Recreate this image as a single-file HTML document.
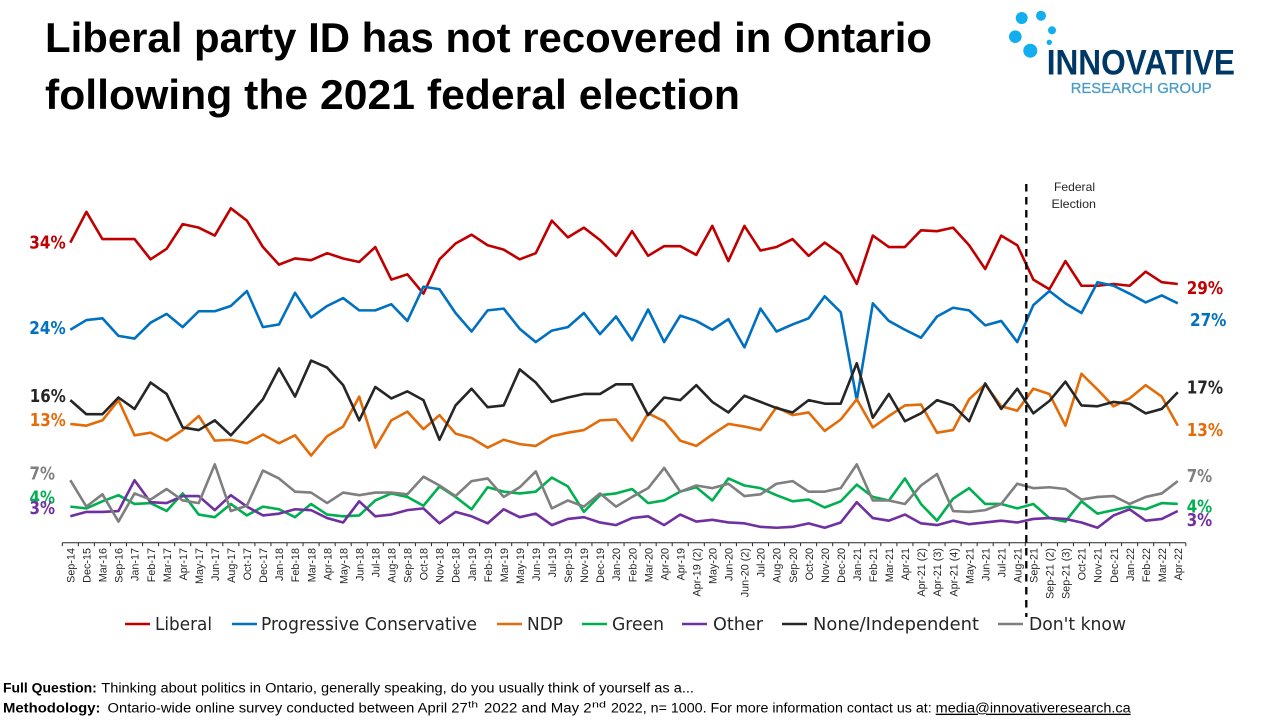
<!DOCTYPE html>
<html lang="en">
<head>
<meta charset="utf-8">
<title>Liberal party ID in Ontario</title>
<style>
html,body{margin:0;padding:0;background:#fff;width:1280px;height:720px;overflow:hidden}
svg{display:block}
.title{font-family:"Liberation Sans",sans-serif;font-weight:700;font-size:41.5px;fill:#000}
.lab{font-family:"DejaVu Sans","Liberation Sans",sans-serif;font-weight:700;font-size:17.5px}
.leg{font-family:"DejaVu Sans","Liberation Sans",sans-serif;font-size:18px;fill:#262626}
.foot{font-family:"Liberation Sans",sans-serif;font-size:13.5px;fill:#000}
.sup{font-family:"Liberation Sans",sans-serif;font-size:9px;fill:#000}
.note{font-family:"Liberation Sans",sans-serif;font-size:12px;fill:#262626}
.tick{font-family:"Liberation Sans",sans-serif;font-size:10.8px;fill:#262626}
</style>
</head>
<body>
<svg id="chart" xmlns="http://www.w3.org/2000/svg" width="1280" height="720" viewBox="0 0 1280 720">
  <rect x="0" y="0" width="1280" height="720" fill="#fff"/>

  <g>
    <text class="title" x="45" y="52" textLength="887" lengthAdjust="spacingAndGlyphs">Liberal party ID has not recovered in Ontario</text>
    <text class="title" x="45" y="109" textLength="695" lengthAdjust="spacingAndGlyphs">following the 2021 federal election</text>
  </g>

  <g>
    <circle cx="1021.7" cy="18" r="6" fill="#12AEEF"/>
    <circle cx="1041" cy="15.7" r="5" fill="#12AEEF"/>
    <circle cx="1052" cy="30.3" r="4" fill="#12AEEF"/>
    <circle cx="1049.3" cy="42.3" r="2.7" fill="#12AEEF"/>
    <circle cx="1015.3" cy="36.7" r="6.3" fill="#12AEEF"/>
    <circle cx="1030.3" cy="50.7" r="7" fill="#12AEEF"/>
    <text x="1046.7" y="74.7" font-family="Liberation Sans, sans-serif" font-weight="700" font-size="35" fill="#003865" textLength="188.3" lengthAdjust="spacingAndGlyphs">INNOVATIVE</text>
    <text x="1070.7" y="93" font-family="Liberation Sans, sans-serif" font-size="15" fill="#4A9CC7" stroke="#4A9CC7" stroke-width="0.3" textLength="141" lengthAdjust="spacingAndGlyphs">RESEARCH GROUP</text>
  </g>

  <g id="axis"></g>
  <g id="lines"></g>

  <line x1="1026.3" y1="184" x2="1026.3" y2="617" stroke="#000" stroke-width="2.3" stroke-dasharray="7.5 5.5"/>
  <text class="note" x="1054" y="191" textLength="41" lengthAdjust="spacingAndGlyphs">Federal</text>
  <text class="note" x="1051.5" y="208" textLength="44.5" lengthAdjust="spacingAndGlyphs">Election</text>

  <g>
    <text class="lab" fill="#C00000" x="29.3" y="248.7" textLength="36.4" lengthAdjust="spacingAndGlyphs">34%</text>
    <text class="lab" fill="#0070C0" x="29.3" y="334" textLength="36.4" lengthAdjust="spacingAndGlyphs">24%</text>
    <text class="lab" fill="#262626" x="29.8" y="402" textLength="36" lengthAdjust="spacingAndGlyphs">16%</text>
    <text class="lab" fill="#E36C0A" x="29.8" y="426" textLength="36" lengthAdjust="spacingAndGlyphs">13%</text>
    <text class="lab" fill="#7F7F7F" x="29.5" y="479.3" textLength="25.5" lengthAdjust="spacingAndGlyphs">7%</text>
    <text class="lab" fill="#00B050" x="29.5" y="503.3" textLength="25.5" lengthAdjust="spacingAndGlyphs">4%</text>
    <text class="lab" fill="#7030A0" x="29.5" y="514" textLength="25.5" lengthAdjust="spacingAndGlyphs">3%</text>
  </g>
  <g>
    <text class="lab" fill="#C00000" x="1186.7" y="294" textLength="36.4" lengthAdjust="spacingAndGlyphs">29%</text>
    <text class="lab" fill="#0070C0" x="1190" y="326" textLength="36.4" lengthAdjust="spacingAndGlyphs">27%</text>
    <text class="lab" fill="#262626" x="1186.7" y="393.3" textLength="36.4" lengthAdjust="spacingAndGlyphs">17%</text>
    <text class="lab" fill="#E36C0A" x="1186.7" y="436" textLength="36.4" lengthAdjust="spacingAndGlyphs">13%</text>
    <text class="lab" fill="#7F7F7F" x="1186.7" y="482" textLength="25.5" lengthAdjust="spacingAndGlyphs">7%</text>
    <text class="lab" fill="#00B050" x="1186.7" y="512.7" textLength="25.5" lengthAdjust="spacingAndGlyphs">4%</text>
    <text class="lab" fill="#7030A0" x="1186.7" y="526" textLength="25.5" lengthAdjust="spacingAndGlyphs">3%</text>
  </g>

  <g>
    <g>
      <line x1="125" y1="624" x2="150" y2="624" stroke="#C00000" stroke-width="2.6"/>
      <text class="leg" x="155" y="630" textLength="57" lengthAdjust="spacingAndGlyphs">Liberal</text>
    </g>
    <g>
      <line x1="232" y1="624" x2="257" y2="624" stroke="#0070C0" stroke-width="2.6"/>
      <text class="leg" x="261" y="630" textLength="216" lengthAdjust="spacingAndGlyphs">Progressive Conservative</text>
    </g>
    <g>
      <line x1="497" y1="624" x2="522" y2="624" stroke="#E36C0A" stroke-width="2.6"/>
      <text class="leg" x="527" y="630" textLength="36" lengthAdjust="spacingAndGlyphs">NDP</text>
    </g>
    <g>
      <line x1="582" y1="624" x2="607" y2="624" stroke="#00B050" stroke-width="2.6"/>
      <text class="leg" x="612" y="630" textLength="52" lengthAdjust="spacingAndGlyphs">Green</text>
    </g>
    <g>
      <line x1="682" y1="624" x2="707" y2="624" stroke="#7030A0" stroke-width="2.6"/>
      <text class="leg" x="713" y="630" textLength="50" lengthAdjust="spacingAndGlyphs">Other</text>
    </g>
    <g>
      <line x1="782" y1="624" x2="807" y2="624" stroke="#262626" stroke-width="2.6"/>
      <text class="leg" x="813" y="630" textLength="166" lengthAdjust="spacingAndGlyphs">None/Independent</text>
    </g>
    <g>
      <line x1="998" y1="624" x2="1023" y2="624" stroke="#7F7F7F" stroke-width="2.6"/>
      <text class="leg" x="1029" y="630" textLength="97" lengthAdjust="spacingAndGlyphs">Don't know</text>
    </g>
  </g>

  <g>
    <text class="foot" x="3" y="692.7" font-weight="700" textLength="93.8" lengthAdjust="spacingAndGlyphs">Full Question:</text>
    <text class="foot" x="101.3" y="692.7" textLength="592.7" lengthAdjust="spacingAndGlyphs">Thinking about politics in Ontario, generally speaking, do you usually think of yourself as a...</text>
    <text class="foot" x="3" y="712.7" font-weight="700" textLength="97.5" lengthAdjust="spacingAndGlyphs">Methodology:</text>
    <text class="foot" x="107.5" y="712.7" textLength="360.2" lengthAdjust="spacingAndGlyphs">Ontario-wide online survey conducted between April 27</text>
    <text class="sup" x="468" y="707.5" textLength="10" lengthAdjust="spacingAndGlyphs">th</text>
    <text class="foot" x="484" y="712.7" textLength="107.6" lengthAdjust="spacingAndGlyphs">2022 and May 2</text>
    <text class="sup" x="592" y="707.5" textLength="14" lengthAdjust="spacingAndGlyphs">nd</text>
    <text class="foot" x="611" y="712.7" textLength="320.7" lengthAdjust="spacingAndGlyphs">2022, n= 1000. For more information contact us at:</text>
    <text class="foot" x="935.7" y="712.7" text-decoration="underline" textLength="195" lengthAdjust="spacingAndGlyphs">media@innovativeresearch.ca</text>
  </g>
</svg>

<script>
const categories = ["Sep-14","Dec-15","Mar-16","Sep-16","Jan-17","Feb-17","Mar-17","Apr-17","May-17","Jun-17",
  "Aug-17","Oct-17","Dec-17","Jan-18","Feb-18","Mar-18","Apr-18","May-18","Jun-18","Jul-18",
  "Aug-18","Sep-18","Oct-18","Nov-18","Dec-18","Jan-19","Feb-19","Mar-19","May-19","Jun-19",
  "Jul-19","Sep-19","Nov-19","Dec-19","Jan-20","Feb-20","Mar-20","Apr-20","Apr-19","Apr-19 (2)",
  "May-20","Jun-20","Jun-20 (2)","Jul-20","Aug-20","Sep-20","Oct-20","Nov-20","Dec-20","Jan-21",
  "Feb-21","Mar-21","Apr-21","Apr-21 (2)","Apr-21 (3)","Apr-21 (4)","May-21","Jun-21","Jul-21","Aug-21",
  "Sep-21","Sep-21 (2)","Sep-21 (3)","Oct-21","Nov-21","Dec-21","Jan-22","Feb-22","Mar-22","Apr-22"];

const liberal = [34.1,37.6,34.5,34.5,34.5,32.2,33.4,36.2,35.8,34.9,
  38.0,36.6,33.6,31.6,32.3,32.1,32.9,32.3,31.9,33.6,
  29.9,30.5,28.3,32.2,34.0,35.0,33.8,33.3,32.2,32.9,
  36.6,34.7,35.8,34.4,32.6,35.4,32.6,33.7,33.7,32.7,
  36.0,32.0,36.0,33.2,33.6,34.5,32.6,34.1,32.8,29.4,
  34.9,33.6,33.6,35.5,35.4,35.8,33.8,31.1,34.9,33.8,
  29.9,28.8,32.0,29.2,29.2,29.4,29.2,30.8,29.6,29.4];

const progressiveConservative = [24.2,25.3,25.5,23.5,23.2,25.0,26.0,24.5,26.3,26.3,
  26.9,28.6,24.5,24.8,28.4,25.6,26.9,27.8,26.4,26.4,
  27.1,25.2,29.1,28.8,26.1,24.0,26.4,26.6,24.3,22.8,
  24.1,24.5,26.1,23.7,25.7,23.0,26.5,22.8,25.8,25.2,
  24.2,25.4,22.2,26.6,24.0,24.8,25.5,28.0,26.2,16.2,
  27.2,25.2,24.2,23.3,25.7,26.7,26.4,24.7,25.2,22.8,
  27.0,28.6,27.2,26.1,29.6,29.2,28.3,27.3,28.1,27.2];

const ndp = [13.5,13.3,13.9,16.2,12.2,12.5,11.6,12.8,14.4,11.6,
  11.7,11.3,12.3,11.3,12.2,9.9,12.1,13.2,16.6,10.8,
  13.9,14.9,12.9,14.5,12.4,11.9,10.8,11.7,11.2,11.0,
  12.1,12.5,12.8,13.9,14.0,11.6,14.7,13.8,11.6,11.0,
  12.3,13.5,13.2,12.8,15.4,14.5,14.8,12.7,14.0,16.3,
  13.1,14.4,15.6,15.7,12.5,12.8,16.3,18.0,15.5,15.0,
  17.5,16.9,13.3,19.2,17.4,15.5,16.4,17.9,16.6,13.3];

const green = [4.1,3.9,4.7,5.4,4.4,4.5,3.6,5.6,3.2,2.9,
  4.4,3.1,4.1,3.8,2.9,4.4,3.2,3.0,3.1,4.8,
  5.6,5.2,4.2,6.4,5.2,3.8,6.3,5.8,5.6,5.8,
  7.4,6.4,3.5,5.4,5.6,6.1,4.5,4.8,5.8,6.3,
  4.8,7.3,6.5,6.2,5.4,4.7,4.9,4.0,4.7,6.6,
  5.2,4.8,7.3,4.4,2.5,5.0,6.2,4.4,4.4,3.9,
  4.4,2.8,2.4,4.7,3.3,3.7,4.1,3.8,4.5,4.4];

const other = [3.0,3.5,3.5,3.6,7.1,4.6,4.5,5.3,5.3,3.7,
  5.4,4.1,3.1,3.3,3.8,3.7,2.8,2.3,4.7,3.0,
  3.2,3.7,3.9,2.2,3.5,3.0,2.2,3.8,2.9,3.3,
  2.0,2.7,2.9,2.3,2.0,2.8,3.0,2.0,3.2,2.4,
  2.6,2.3,2.2,1.8,1.7,1.8,2.2,1.7,2.3,4.6,
  2.8,2.5,3.2,2.2,2.0,2.5,2.1,2.3,2.5,2.3,
  2.7,2.8,2.7,2.3,1.7,3.1,3.8,2.5,2.7,3.6];

const noneIndependent = [16.2,14.6,14.6,16.5,15.2,18.2,16.9,13.1,12.8,13.9,
  12.2,14.2,16.3,19.8,16.6,20.7,19.9,17.9,13.9,17.7,
  16.4,17.2,16.2,11.7,15.6,17.5,15.4,15.6,19.7,18.2,
  16.0,16.5,16.9,16.9,18.0,18.0,14.5,16.5,16.2,17.9,
  16.0,14.8,16.7,16.0,15.3,14.8,16.2,15.8,15.8,20.4,
  14.2,16.9,13.8,14.7,16.2,15.6,13.8,18.1,15.2,17.5,
  14.7,16.1,18.3,15.6,15.5,16.0,15.8,14.7,15.2,17.1];

const dontKnow = [7.1,4.1,5.5,2.4,5.6,4.9,6.1,4.8,4.5,8.9,
  3.6,4.2,8.2,7.3,5.8,5.7,4.5,5.7,5.4,5.7,
  5.7,5.5,7.5,6.5,5.3,7.0,7.3,5.2,6.3,8.1,
  3.9,4.8,4.1,5.6,4.1,5.2,6.2,8.5,5.8,6.5,
  6.2,6.7,5.3,5.5,6.7,7.0,5.8,5.8,6.2,8.9,
  4.8,4.8,4.4,6.5,7.8,3.6,3.5,3.7,4.4,6.7,
  6.2,6.3,6.1,4.9,5.2,5.3,4.4,5.2,5.6,7.0];

const SVG_NS = "http://www.w3.org/2000/svg";
const plotLeft = 62.3;
const slotWidth = 16.05;
const baselineY = 542.7;
const pxPerPoint = 8.8;

function xScale(i) { return plotLeft + slotWidth * (i + 0.5); }
function yScale(v) { return baselineY - pxPerPoint * v; }

const axisGroup = document.getElementById("axis");
const linesGroup = document.getElementById("lines");

const axisLine = document.createElementNS(SVG_NS, "line");


axisLine.setAttribute("x1", plotLeft);
axisLine.setAttribute("x2", plotLeft + slotWidth * categories.length);
axisLine.setAttribute("y1", baselineY);
axisLine.setAttribute("y2", baselineY);
axisLine.setAttribute("stroke", "#262626");
axisLine.setAttribute("stroke-width", "1");
axisGroup.appendChild(axisLine);

for (let i = 0; i <= categories.length; i++) {
  const tick = document.createElementNS(SVG_NS, "line");
  
  
  const tx = plotLeft + slotWidth * i;
  tick.setAttribute("x1", tx);
  tick.setAttribute("x2", tx);
  tick.setAttribute("y1", baselineY);
  tick.setAttribute("y2", baselineY + 3.5);
  tick.setAttribute("stroke", "#262626");
  tick.setAttribute("stroke-width", "1");
  axisGroup.appendChild(tick);
}

categories.forEach(function (label, i) {
  const t = document.createElementNS(SVG_NS, "text");
  
  
  t.setAttribute("class", "tick");
  t.setAttribute("text-anchor", "end");
  t.setAttribute("transform", "translate(" + (xScale(i) + 4.2) + ",548) rotate(-90)");
  t.textContent = label;
  axisGroup.appendChild(t);
});

function drawSeries(values, color, name) {
  const line = document.createElementNS(SVG_NS, "polyline");
  
  
  line.setAttribute("fill", "none");
  line.setAttribute("stroke", color);
  line.setAttribute("stroke-width", "2.6");
  line.setAttribute("stroke-linejoin", "round");
  line.setAttribute("points", values.map(function (v, i) {
    return xScale(i).toFixed(2) + "," + yScale(v).toFixed(2);
  }).join(" "));
  linesGroup.appendChild(line);
}

drawSeries(liberal, "#C00000", "line-liberal");
drawSeries(progressiveConservative, "#0070C0", "line-progressive-conservative");
drawSeries(ndp, "#E36C0A", "line-ndp");
drawSeries(green, "#00B050", "line-green");
drawSeries(other, "#7030A0", "line-other");
drawSeries(noneIndependent, "#262626", "line-none-independent");
drawSeries(dontKnow, "#7F7F7F", "line-dont-know");
</script>
</body>
</html>
